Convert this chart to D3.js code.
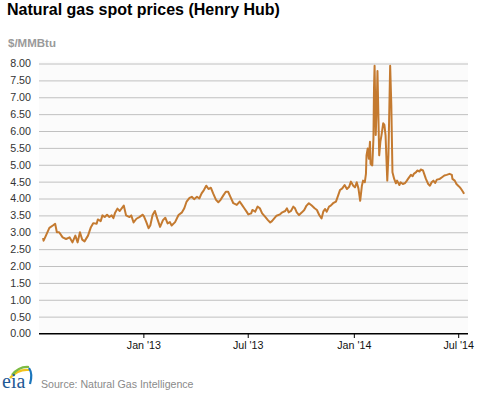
<!DOCTYPE html>
<html>
<head>
<meta charset="utf-8">
<script src="https://cdn.jsdelivr.net/npm/d3@7"></script>
<style>
  html, body { margin: 0; padding: 0; background: #ffffff; }
  svg { display: block; font-family: "Liberation Sans", Arial, sans-serif; }
</style>
</head>
<body>
<svg id="chart" width="477" height="393"></svg>
<script>
// ---------- data ----------
const title = "Natural gas spot prices (Henry Hub)";
const unitLabel = "$/MMBtu";
const sourceText = "Source: Natural Gas Intelligence";

const yTicks = [0, 0.5, 1, 1.5, 2, 2.5, 3, 3.5, 4, 4.5, 5, 5.5, 6, 6.5, 7, 7.5, 8];
const xTickDates = ["2013-01-01", "2013-07-01", "2014-01-01", "2014-07-01"];
const xTickLabels = ["Jan '13", "Jul '13", "Jan '14", "Jul '14"];
const xDomain = ["2012-07-04", "2014-07-18"];

const dates = [
  "2012-07-11","2012-07-12","2012-07-16","2012-07-22","2012-07-28","2012-08-01","2012-08-04","2012-08-08",
  "2012-08-14","2012-08-20","2012-08-26","2012-08-31","2012-09-05","2012-09-09","2012-09-13","2012-09-17",
  "2012-09-21","2012-09-27","2012-10-02","2012-10-06","2012-10-12","2012-10-14","2012-10-19","2012-10-22",
  "2012-10-26","2012-10-30","2012-11-03","2012-11-07","2012-11-10","2012-11-13","2012-11-17","2012-11-21",
  "2012-11-28","2012-12-02","2012-12-08","2012-12-11","2012-12-15","2012-12-20","2012-12-25","2012-12-31",
  "2013-01-02","2013-01-06","2013-01-10","2013-01-13","2013-01-17","2013-01-21","2013-01-25","2013-01-30",
  "2013-02-04","2013-02-08","2013-02-12","2013-02-16","2013-02-19","2013-02-25","2013-03-03","2013-03-09",
  "2013-03-13","2013-03-17","2013-03-22","2013-03-26","2013-03-30","2013-04-04","2013-04-08","2013-04-12",
  "2013-04-16","2013-04-20","2013-04-24","2013-04-28","2013-05-02","2013-05-07","2013-05-11","2013-05-15",
  "2013-05-20","2013-05-24","2013-05-28","2013-06-01","2013-06-06","2013-06-12","2013-06-17","2013-06-21",
  "2013-06-25","2013-06-29","2013-07-02","2013-07-07","2013-07-09","2013-07-14","2013-07-18","2013-07-22",
  "2013-07-26","2013-07-31","2013-08-05","2013-08-09","2013-08-12","2013-08-16","2013-08-20","2013-08-26",
  "2013-08-30","2013-09-04","2013-09-07","2013-09-10","2013-09-14","2013-09-18","2013-09-21","2013-09-24",
  "2013-09-28","2013-10-03","2013-10-07","2013-10-11","2013-10-15","2013-10-20","2013-10-25","2013-10-29",
  "2013-11-02","2013-11-06","2013-11-09","2013-11-12","2013-11-15","2013-11-19","2013-11-22","2013-11-26",
  "2013-12-01","2013-12-05","2013-12-08","2013-12-12","2013-12-16","2013-12-20","2013-12-24","2013-12-27",
  "2013-12-31","2014-01-03","2014-01-06","2014-01-09","2014-01-12","2014-01-15","2014-01-17","2014-01-20",
  "2014-01-22","2014-01-23","2014-01-25","2014-01-27","2014-01-29","2014-01-30","2014-02-02","2014-02-04",
  "2014-02-05","2014-02-06","2014-02-08","2014-02-10","2014-02-11","2014-02-14","2014-02-16","2014-02-18",
  "2014-02-21","2014-02-23","2014-02-25","2014-02-28","2014-03-02","2014-03-05","2014-03-07","2014-03-09",
  "2014-03-12","2014-03-15","2014-03-17","2014-03-21","2014-03-23","2014-03-27","2014-03-31","2014-04-03",
  "2014-04-05","2014-04-10","2014-04-13","2014-04-15","2014-04-19","2014-04-21","2014-04-25","2014-04-27",
  "2014-05-01","2014-05-03","2014-05-06","2014-05-10","2014-05-13","2014-05-16","2014-05-19","2014-05-22",
  "2014-05-25","2014-05-30","2014-06-03","2014-06-07","2014-06-11","2014-06-16","2014-06-20","2014-06-21",
  "2014-06-25","2014-06-28","2014-07-01","2014-07-04","2014-07-07","2014-07-10","2014-07-11"
];

const prices = [
  2.83,2.75,2.90,3.13,3.20,3.25,3.00,3.00,
  2.85,2.80,2.85,2.70,2.90,2.70,3.00,2.78,
  2.73,2.90,3.15,3.27,3.25,3.38,3.33,3.50,
  3.45,3.52,3.45,3.50,3.42,3.58,3.70,3.63,
  3.79,3.50,3.45,3.50,3.29,3.40,3.45,3.52,
  3.47,3.31,3.12,3.20,3.51,3.63,3.41,3.16,
  3.36,3.43,3.26,3.30,3.20,3.30,3.51,3.59,
  3.71,3.91,4.02,4.05,3.98,4.05,4.00,4.15,
  4.25,4.38,4.28,4.32,4.15,3.96,3.89,3.96,
  4.10,4.20,4.20,4.05,3.86,3.81,3.91,3.81,
  3.71,3.61,3.53,3.56,3.66,3.61,3.76,3.71,
  3.56,3.46,3.36,3.29,3.33,3.41,3.49,3.53,
  3.59,3.63,3.71,3.59,3.63,3.76,3.71,3.59,
  3.51,3.59,3.66,3.79,3.86,3.79,3.71,3.66,
  3.51,3.41,3.61,3.69,3.61,3.76,3.79,3.86,
  3.91,4.10,4.25,4.30,4.40,4.28,4.35,4.50,
  4.38,4.33,4.48,4.30,3.93,4.38,4.53,4.48,
  4.73,5.28,5.48,5.18,5.68,5.03,4.98,5.78,
  7.28,7.93,5.88,6.98,7.78,5.28,5.68,5.88,
  6.23,6.18,5.88,4.53,5.28,7.93,6.78,4.78,
  4.58,4.45,4.53,4.40,4.48,4.43,4.46,4.53,
  4.58,4.70,4.66,4.73,4.78,4.83,4.80,4.86,
  4.83,4.73,4.58,4.43,4.38,4.48,4.53,4.46,
  4.56,4.58,4.63,4.68,4.70,4.73,4.70,4.58,
  4.53,4.43,4.38,4.33,4.26,4.18,4.14
];

// ---------- drawing ----------
(function () {
const parse = d3.timeParse("%Y-%m-%d");
const series = dates.map((d, i) => ({ date: parse(d), value: prices[i] }));

const svg = d3.select("#chart");
const pLeft = 39, pRight = 468, pTop = 63.5, pBottom = 333.5;

const x = d3.scaleTime().domain(xDomain.map(parse)).range([pLeft, pRight]);
const y = d3.scaleLinear().domain([0, 8]).range([pBottom, pTop]);

// title
svg.append("text")
  .attr("x", 7).attr("y", 15)
  .attr("font-size", 16).attr("font-weight", "bold").attr("fill", "#000")
  .text(title);

svg.append("text")
  .attr("x", 8).attr("y", 47)
  .attr("font-size", 11.5).attr("font-weight", "bold").attr("fill", "#9a9a9a")
  .text(unitLabel);

// plot background
svg.append("rect")
  .attr("x", pLeft).attr("y", pTop - 2)
  .attr("width", pRight - pLeft).attr("height", pBottom - pTop + 2)
  .attr("fill", "#fbfbfb");

// y gridlines + labels
const yAxis = d3.axisLeft(y).tickValues(yTicks).tickSize(-(pRight - pLeft)).tickFormat(d3.format(".2f")).tickPadding(8);
const yg = svg.append("g").attr("transform", `translate(${pLeft},0)`).call(yAxis);
yg.select(".domain").remove();
yg.selectAll(".tick line").attr("stroke", "#c0c0c0").attr("stroke-width", 1);
yg.selectAll(".tick text").attr("font-size", 10.7).attr("fill", "#333").attr("x", -8)
  .attr("font-family", "'Liberation Sans', Arial, sans-serif");
yg.selectAll(".tick").filter(d => d === 0).select("line").attr("stroke", "#000");

// x axis
const xAxis = d3.axisBottom(x)
  .tickValues(xTickDates.map(parse))
  .tickFormat((d, i) => xTickLabels[i])
  .tickSize(5).tickPadding(3);
const xg = svg.append("g").attr("transform", `translate(0,${pBottom - 0.5})`).call(xAxis);
xg.select(".domain").attr("stroke", "#000").attr("d", `M${pLeft},0.5H${pRight}`);
xg.selectAll(".tick line").attr("stroke", "#000");
xg.selectAll(".tick text").attr("font-size", 10.7).attr("fill", "#111")
  .attr("font-family", "'Liberation Sans', Arial, sans-serif");

// line
const line = d3.line().x(d => x(d.date)).y(d => y(d.value));
svg.append("path")
  .datum(series)
  .attr("fill", "none")
  .attr("stroke", "#c47a30")
  .attr("stroke-width", 2)
  .attr("stroke-linejoin", "round")
  .attr("d", line);

// eia logo
const logo = svg.append("g");
logo.append("path").attr("d", "M10,378 Q18,369 29,370").attr("fill", "none").attr("stroke", "#f2c21b").attr("stroke-width", 2.2);
logo.append("path").attr("d", "M12,375 Q19,366 29,367").attr("fill", "none").attr("stroke", "#7dbb42").attr("stroke-width", 2.2);
logo.append("path").attr("d", "M29,368 Q33,374 30,384").attr("fill", "none").attr("stroke", "#1c76bc").attr("stroke-width", 2.2);
logo.append("text").attr("x", 2).attr("y", 388)
  .attr("font-family", "'Liberation Serif', 'Times New Roman', serif")
  .attr("font-size", 20).attr("fill", "#1f5a96").text("eia");

svg.append("text")
  .attr("x", 41).attr("y", 388)
  .attr("font-size", 10.6).attr("fill", "#8a8a8a")
  .text(sourceText);
})();
</script>
</body>
</html>
